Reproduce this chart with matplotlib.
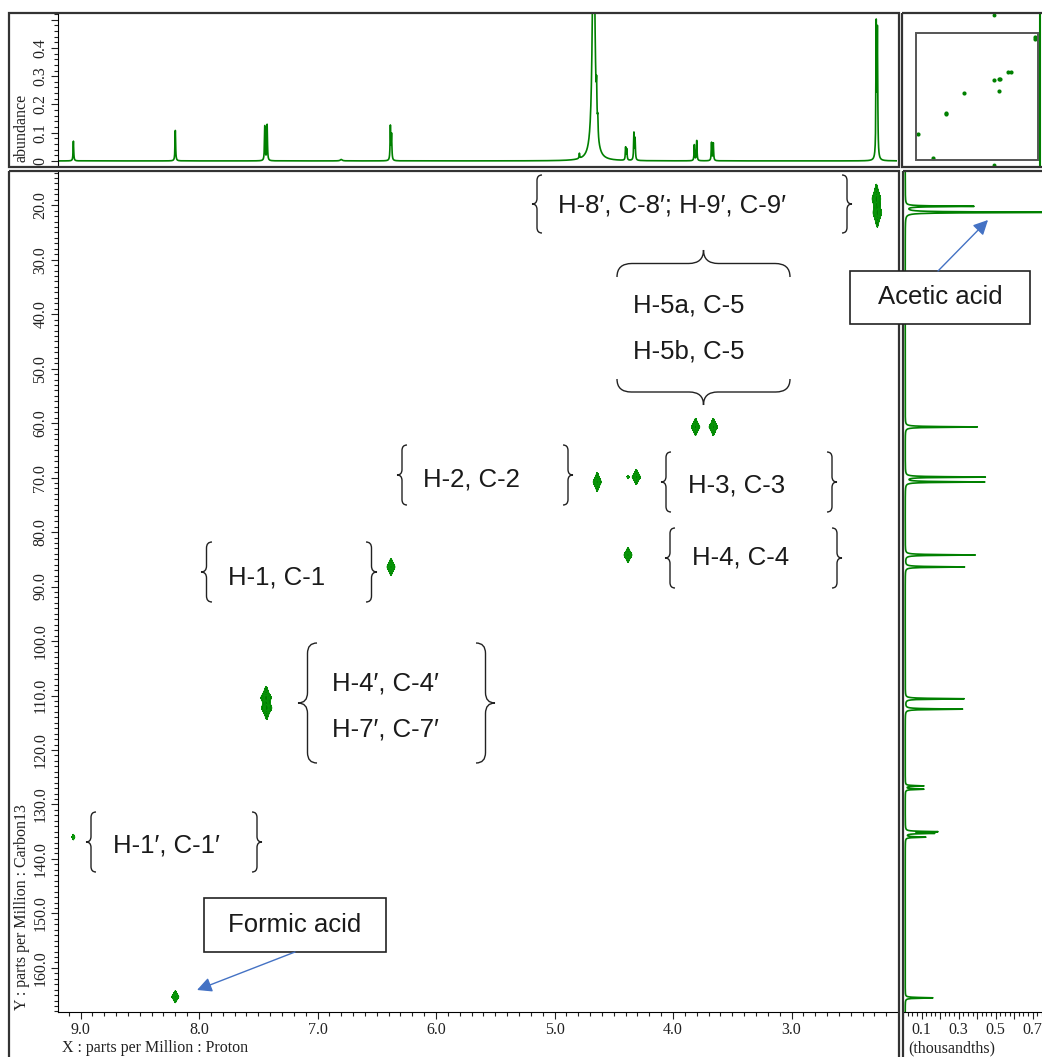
import numpy as np
import matplotlib
matplotlib.use('Agg')
import matplotlib.pyplot as plt
from matplotlib.path import Path
from matplotlib.patches import PathPatch, Rectangle
from matplotlib.ticker import MultipleLocator, FuncFormatter

W, H = 1042, 1057

# axis ranges (ppm)
h_lim = (9.19, 2.11)
c_lim = (168.1, 13.9)

# 1H projection: shift (ppm), abundance, linewidth (ppm)
h_shift = [9.06, 8.20, 7.445, 7.425, 6.385, 6.375, 6.80, 4.79, 4.67, 4.645, 4.635,
           4.40, 4.39, 4.33, 4.32, 3.82, 3.80, 3.675, 3.66, 2.285, 2.275]
h_height = [0.07, 0.11, 0.125, 0.127, 0.12, 0.09, 0.005, 0.018, 0.95, 0.12, 0.06,
            0.045, 0.038, 0.095, 0.075, 0.056, 0.072, 0.064, 0.062, 0.47, 0.45]
h_lw = [0.003, 0.003, 0.003, 0.003, 0.003, 0.003, 0.01, 0.003, 0.012, 0.003, 0.003,
        0.003, 0.003, 0.003, 0.003, 0.003, 0.003, 0.003, 0.003, 0.003, 0.003]

# 13C projection: shift (ppm), intensity (thousandths)
c_shift = [20.2, 21.3, 60.7, 69.9, 70.8, 84.2, 86.4, 110.6, 112.5, 126.6, 127.2,
           135.0, 135.3, 136.0, 165.5]
c_height = [0.37, 0.95, 0.39, 0.43, 0.43, 0.38, 0.32, 0.32, 0.31, 0.10, 0.10,
            0.17, 0.15, 0.11, 0.15]
c_base = 0.012

# HSQC cross peaks: 1H shift, 13C shift, linewidths
xp_h = [2.285, 2.275, 3.81, 3.66, 4.64, 4.31, 4.38, 4.38, 6.38, 7.435, 7.428, 9.06, 8.20]
xp_c = [18.8, 21.4, 60.7, 60.7, 70.8, 69.9, 69.9, 84.2, 86.4, 110.4, 112.3, 136.0, 165.3]
xp_wh = [0.0125, 0.0125, 0.0125, 0.0125, 0.0125, 0.0125, 0.003, 0.0125, 0.0125, 0.015, 0.015, 0.0047, 0.011]
xp_wc = [0.9, 0.9, 0.58, 0.58, 0.64, 0.51, 0.1, 0.51, 0.58, 0.68, 0.68, 0.2, 0.41]

green = '#008000'
frame_c = '#333333'
serif = ['Liberation Serif', 'DejaVu Serif']
sans = ['Liberation Sans', 'DejaVu Sans']


def lor(x, x0, w):
    return w**2 / ((x - x0)**2 + w**2)


def px(l, t, r, b):
    return [l / W, 1 - b / H, (r - l) / W, (b - t) / H]


def style_ticks(a, maj=5, mnr=3):
    a.tick_params(which='both', direction='out', width=0.8, colors='#222222', labelsize=11.5, pad=2)
    a.tick_params(which='major', length=maj)
    a.tick_params(which='minor', length=mnr)


fig = plt.figure(figsize=(W / 100, H / 100), dpi=100)

# ---- main 2D panel
ax = fig.add_axes(px(58, 172, 897, 1012))
hx = np.linspace(h_lim[1], h_lim[0], 2200)
cy = np.linspace(c_lim[1], c_lim[0], 1500)
HX, CY = np.meshgrid(hx, cy)
Z = np.zeros_like(HX)
for h0, c0, wh, wc in zip(xp_h, xp_c, xp_wh, xp_wc):
    Z += lor(HX, h0, wh) * lor(CY, c0, wc)
ax.contourf(HX, CY, Z, levels=[0.12, 100], colors=['#007a00'])
ax.contour(HX, CY, Z, levels=[0.12, 0.25, 0.45, 0.7], colors=['#0a9a0a'], linewidths=0.6)
ax.set_xlim(*h_lim)
ax.set_ylim(*c_lim)
ax.xaxis.set_major_locator(MultipleLocator(1.0))
ax.xaxis.set_minor_locator(MultipleLocator(0.1))
ax.yaxis.set_major_locator(MultipleLocator(10))
ax.yaxis.set_minor_locator(MultipleLocator(1))
ax.xaxis.set_major_formatter(FuncFormatter(lambda v, p: '%.1f' % v))
ax.yaxis.set_major_formatter(FuncFormatter(lambda v, p: '%.1f' % v))
style_ticks(ax)
ax.tick_params(axis='y', labelrotation=90)
for lab in ax.get_yticklabels():
    lab.set_va('center')
for lab in ax.get_xticklabels() + ax.get_yticklabels():
    lab.set_family(serif)
ax.spines['top'].set_visible(False)
ax.spines['right'].set_visible(False)

# ---- top 1H projection
axt = fig.add_axes(px(58, 14, 897, 166))
hgrid = np.linspace(h_lim[1], h_lim[0], 8000)
hspec = np.zeros_like(hgrid)
for s, a, w in zip(h_shift, h_height, h_lw):
    hspec += a * lor(hgrid, s, w)
axt.plot(hgrid, hspec, color=green, lw=1.2)
axt.set_xlim(*h_lim)
axt.set_ylim(-0.018, 0.52)
axt.set_xticks([])
axt.yaxis.set_major_locator(MultipleLocator(0.1))
axt.yaxis.set_minor_locator(MultipleLocator(0.02))
axt.yaxis.set_major_formatter(FuncFormatter(
    lambda v, p: '0' if abs(v) < 1e-9 else ('' if v > 0.45 else '%.1f' % v)))
style_ticks(axt)
axt.tick_params(axis='y', labelrotation=90)
for lab in axt.get_yticklabels():
    lab.set_va('center')
    lab.set_family(serif)
for sp in ['top', 'right', 'bottom']:
    axt.spines[sp].set_visible(False)

# ---- right 13C projection
axr = fig.add_axes(px(903, 172, 1042, 1012))
cgrid = np.linspace(c_lim[1], c_lim[0], 9000)
cspec = np.full_like(cgrid, c_base)
for s, a in zip(c_shift, c_height):
    cspec += a * lor(cgrid, s, 0.07)
axr.plot(cspec, cgrid, color=green, lw=1.2)
axr.set_ylim(*c_lim)
axr.set_xlim(0, 0.75)
axr.set_yticks([])
axr.xaxis.set_major_locator(MultipleLocator(0.1))
axr.xaxis.set_minor_locator(MultipleLocator(0.025))
axr.xaxis.set_major_formatter(FuncFormatter(lambda v, p: '%.1f' % v if int(round(v * 10)) % 2 == 1 else ''))
style_ticks(axr)
for lab in axr.get_xticklabels():
    lab.set_family(serif)
for sp in ['top', 'right', 'left']:
    axr.spines[sp].set_visible(False)

# ---- top-right overview
axi = fig.add_axes(px(902, 13, 1042, 167))
axi.scatter(xp_h, xp_c, s=9, color=green, marker='o', linewidths=0)
axi.add_patch(Rectangle((h_lim[1], c_lim[1]), h_lim[0] - h_lim[1], c_lim[0] - c_lim[1],
                        fill=False, ec='#555555', lw=1.4))
axi.axvline(1.99, color=green, lw=1.5)
axi.scatter([4.67, 4.67], [-8, 174], s=8, color=green, linewidths=0)
axi.set_xlim(10.0, 1.85)
axi.set_ylim(176, -10)
axi.set_xticks([])
axi.set_yticks([])
for sp in axi.spines.values():
    sp.set_visible(False)

# ---- overlay for frames and annotations (pixel coordinates)
ov = fig.add_axes([0, 0, 1, 1], zorder=10)
ov.set_xlim(0, W)
ov.set_ylim(H, 0)
ov.axis('off')
ov.patch.set_visible(False)

for (l, t, r, b) in [(9, 13, 899, 167), (902, 13, 1045, 167), (9, 171, 899, 1062), (903, 171, 1045, 1062)]:
    ov.add_patch(Rectangle((l, t), r - l, b - t, fill=False, ec=frame_c, lw=1.6))


def vbrace(x_tip, y0, y1, w, d):
    xm = x_tip + d * w / 2
    xe = x_tip + d * w
    ym = (y0 + y1) / 2
    r = w * 0.55
    verts = [(xe, y0), (xm, y0), (xm, y0 + r), (xm, ym - r), (xm, ym), (x_tip, ym),
             (xm, ym), (xm, ym + r), (xm, y1 - r), (xm, y1), (xe, y1)]
    codes = [Path.MOVETO, Path.CURVE3, Path.CURVE3, Path.LINETO, Path.CURVE3, Path.CURVE3,
             Path.CURVE3, Path.CURVE3, Path.LINETO, Path.CURVE3, Path.CURVE3]
    ov.add_patch(PathPatch(Path(verts, codes), fill=False, ec='#222222', lw=1.0))


def hbrace(y_tip, x0, x1, h, d):
    ym = y_tip + d * h / 2
    ye = y_tip + d * h
    xm = (x0 + x1) / 2
    r = h * 0.55
    verts = [(x0, ye), (x0, ym), (x0 + r, ym), (xm - r, ym), (xm, ym), (xm, y_tip),
             (xm, ym), (xm + r, ym), (x1 - r, ym), (x1, ym), (x1, ye)]
    codes = [Path.MOVETO, Path.CURVE3, Path.CURVE3, Path.LINETO, Path.CURVE3, Path.CURVE3,
             Path.CURVE3, Path.CURVE3, Path.LINETO, Path.CURVE3, Path.CURVE3]
    ov.add_patch(PathPatch(Path(verts, codes), fill=False, ec='#222222', lw=1.0))


def pair(xl, xr, y0, y1, w):
    vbrace(xl, y0, y1, w, 1)
    vbrace(xr, y0, y1, w, -1)


fs = 18.5
tc = '#1a1a1a'

pair(532, 852, 175, 233, 10)
ov.text(558, 205, 'H-8\u2032, C-8\u2032; H-9\u2032, C-9\u2032', fontsize=fs, family=sans, color=tc, va='center')

hbrace(250, 617, 790, 27, 1)
hbrace(405, 617, 790, 26, -1)
ov.text(633, 305, 'H-5a, C-5', fontsize=fs, family=sans, color=tc, va='center')
ov.text(633, 352, 'H-5b, C-5', fontsize=fs, family=sans, color=tc, va='center')

pair(397, 573, 445, 505, 10)
ov.text(423, 480, 'H-2, C-2', fontsize=fs, family=sans, color=tc, va='center')

pair(661, 837, 452, 512, 10)
ov.text(688, 485, 'H-3, C-3', fontsize=fs, family=sans, color=tc, va='center')

pair(665, 842, 528, 588, 10)
ov.text(692, 558, 'H-4, C-4', fontsize=fs, family=sans, color=tc, va='center')

pair(201, 377, 542, 602, 11)
ov.text(228, 577, 'H-1, C-1', fontsize=fs, family=sans, color=tc, va='center')

pair(298, 495, 643, 763, 19)
ov.text(332, 683, 'H-4\u2032, C-4\u2032', fontsize=fs, family=sans, color=tc, va='center')
ov.text(332, 730, 'H-7\u2032, C-7\u2032', fontsize=fs, family=sans, color=tc, va='center')

pair(86, 262, 812, 872, 10)
ov.text(113, 846, 'H-1\u2032, C-1\u2032', fontsize=fs, family=sans, color=tc, va='center')

# labelled boxes with arrows
ov.add_patch(Rectangle((850, 271), 180, 53, fc='white', ec='#222222', lw=1.2))
ov.text(940, 297, 'Acetic acid', fontsize=fs, family=sans, color=tc, ha='center', va='center')
ov.annotate('', xy=(988, 220), xytext=(938, 271),
            arrowprops=dict(arrowstyle='-|>', color='#4472C4', lw=1.0, mutation_scale=22, shrinkA=0, shrinkB=0))

ov.add_patch(Rectangle((204, 898), 182, 54, fc='white', ec='#222222', lw=1.2))
ov.text(295, 925, 'Formic acid', fontsize=fs, family=sans, color=tc, ha='center', va='center')
ov.annotate('', xy=(197, 990), xytext=(295, 952),
            arrowprops=dict(arrowstyle='-|>', color='#4472C4', lw=1.0, mutation_scale=22, shrinkA=0, shrinkB=0))

# axis titles
ov.text(22, 162, 'abundance', rotation=90, fontsize=11.5, family=serif, color='#222222', ha='center', va='bottom')
ov.text(22, 1010, 'Y : parts per Million : Carbon13', rotation=90, fontsize=11.5, family=serif,
        color='#222222', ha='center', va='bottom')
ov.text(62, 1048, 'X : parts per Million : Proton', fontsize=11.5, family=serif, color='#222222', va='center')
ov.text(908, 1048, '(thousandths)', fontsize=11.5, family=serif, color='#222222', va='center')

fig.savefig('out.png', dpi=100)
